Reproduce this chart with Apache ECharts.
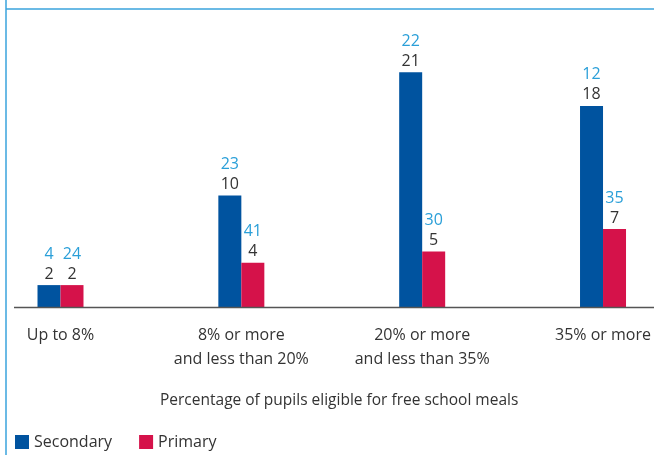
<!DOCTYPE html>
<html>
<head>
<meta charset="utf-8">
<script src="https://cdn.jsdelivr.net/npm/echarts@6/dist/echarts.min.js"></script>
<style>
  html, body { margin: 0; padding: 0; background: #fff; }
  #chart { width: 654px; height: 455px; }
</style>
</head>
<body>
<div id="chart"></div>
<script>
// Share of schools by free-school-meal band, with number of schools above each bar
const categories = ['Up to 8%', '8% or more\nand less than 20%', '20% or more\nand less than 35%', '35% or more'];
const secondaryValues = [2, 10, 21, 18];
const primaryValues = [2, 4, 5, 7];
const secondaryCounts = [4, 23, 22, 12];
const primaryCounts = [24, 41, 30, 35];
const axisTitle = 'Percentage of pupils eligible for free school meals';

const FONT = '"Open Sans", "Noto Sans", sans-serif';
const BLUE = '#00539f';
const RED = '#d5124a';
const FRAME = '#3aa3dc';

const chart = echarts.init(document.getElementById('chart'), null, { renderer: 'canvas' });

function labelFor(counts) {
  return {
    show: true,
    position: 'top',
    distance: 1,
    formatter: p => '{n|' + counts[p.dataIndex] + '}\n{v|' + p.value + '}',
    rich: {
      n: { color: '#2a9fd8', fontSize: 16, fontFamily: FONT, lineHeight: 20 },
      v: { color: '#333', fontSize: 16, fontFamily: FONT, lineHeight: 20 }
    }
  };
}

chart.setOption({
  animation: false,
  backgroundColor: '#fff',
  title: {
    text: axisTitle,
    left: 155,
    top: 388,
    textStyle: { fontSize: 15.5, fontWeight: 'normal', color: '#333', fontFamily: FONT }
  },
  legend: {
    left: 10,
    top: 429,
    itemWidth: 14,
    itemHeight: 14,
    itemGap: 27,
    icon: 'rect',
    textStyle: { fontSize: 16, color: '#333', fontFamily: FONT },
    data: ['Secondary', 'Primary']
  },
  // ticks sit on the category centres; the bars are centred on them
  grid: { left: 60.5, right: 46, top: 27.5, bottom: 147.5, containLabel: false },
  xAxis: {
    type: 'category',
    boundaryGap: false,
    data: categories,
    axisLine: { show: false },
    axisTick: { show: false },
    axisLabel: {
      color: '#333',
      fontSize: 16,
      fontFamily: FONT,
      lineHeight: 24,
      margin: 16,
      interval: 0
    }
  },
  yAxis: {
    type: 'value',
    min: 0,
    max: 25,
    show: false,
    splitLine: { show: false }
  },
  series: [
    {
      name: 'Secondary',
      type: 'bar',
      data: secondaryValues,
      barWidth: 23,
      barGap: '0%',
      itemStyle: { color: BLUE },
      label: labelFor(secondaryCounts)
    },
    {
      name: 'Primary',
      type: 'bar',
      data: primaryValues,
      barWidth: 23,
      barGap: '0%',
      itemStyle: { color: RED },
      label: labelFor(primaryCounts)
    }
  ],
  graphic: [
    // frame rules along the top and left edge
    { type: 'line', shape: { x1: 6, y1: 9, x2: 654, y2: 9 }, style: { stroke: FRAME, lineWidth: 1.5 } },
    { type: 'line', shape: { x1: 6, y1: 0, x2: 6, y2: 455 }, style: { stroke: FRAME, lineWidth: 1.5 } },
    // category baseline
    { type: 'line', z: 10, shape: { x1: 14, y1: 307.5, x2: 654, y2: 307.5 }, style: { stroke: '#555', lineWidth: 1.5 } }
  ]
});
</script>
</body>
</html>
